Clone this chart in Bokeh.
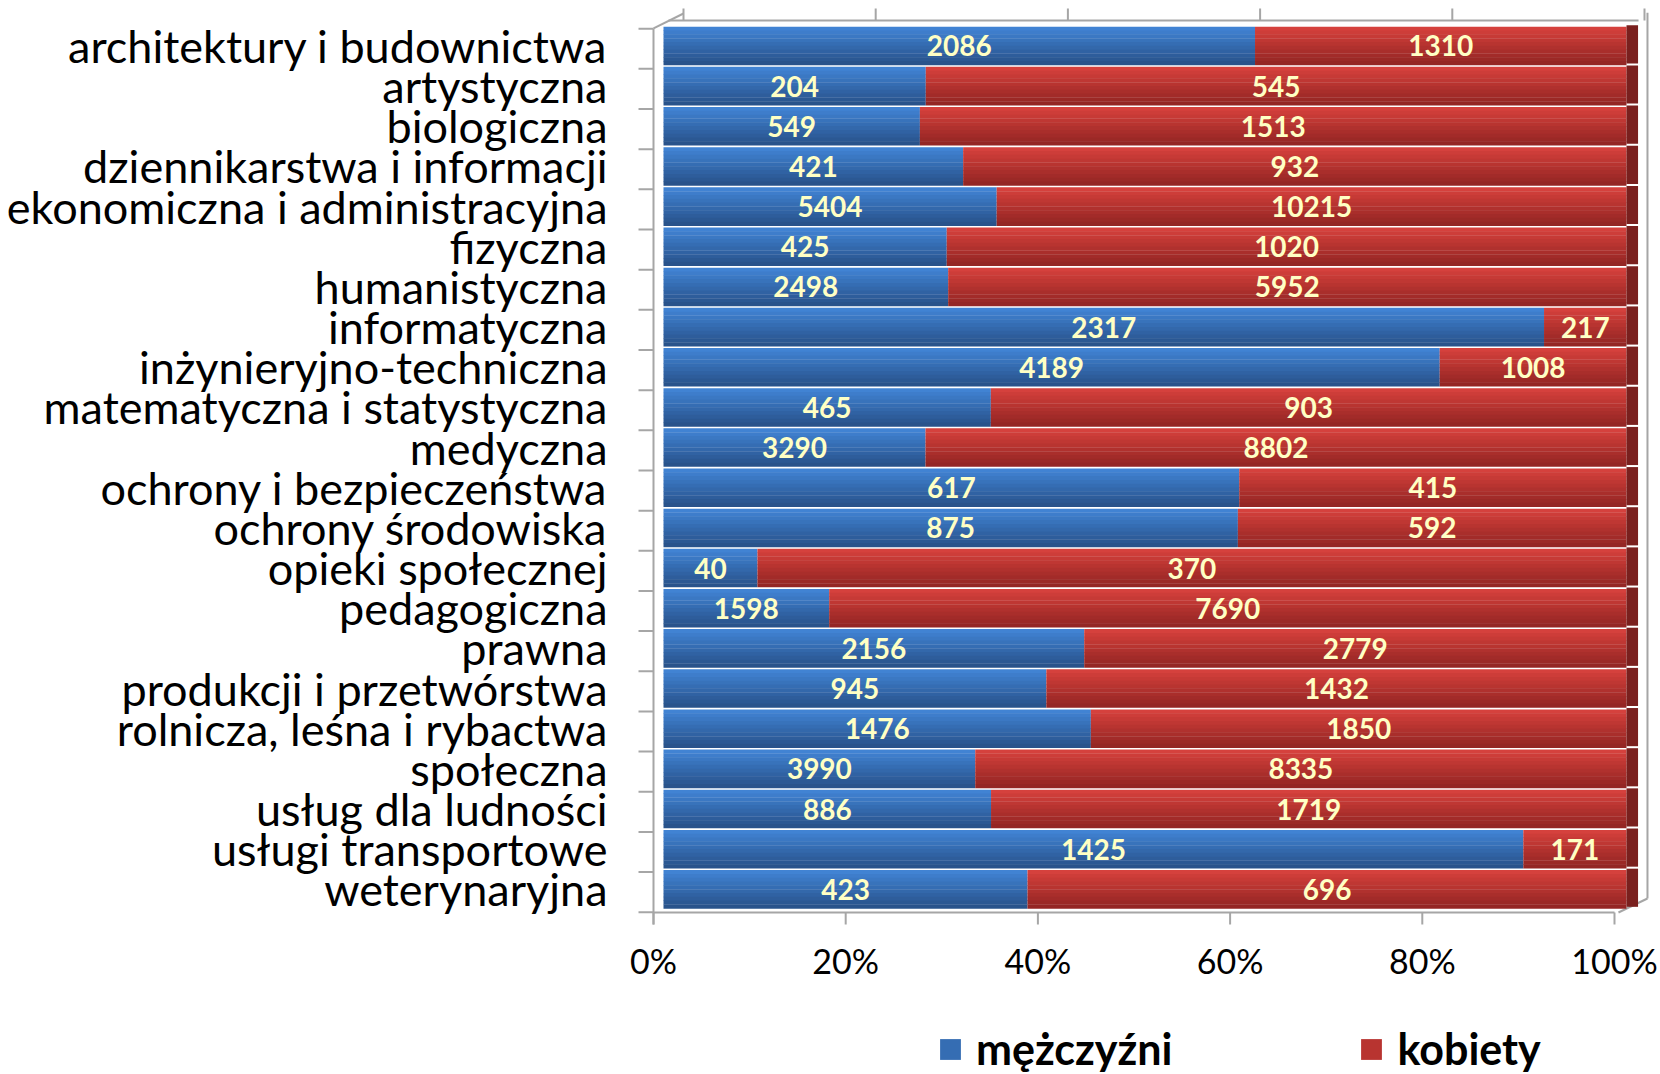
from bokeh.plotting import figure
from bokeh.models import (ColumnDataSource, Range1d, Legend, LegendItem,
                          FixedTicker)
from bokeh.transform import dodge
from bokeh.core.properties import value
from bokeh.embed import file_html
from bokeh.resources import INLINE

categories = ["architektury i budownictwa", "artystyczna", "biologiczna",
              "dziennikarstwa i informacji", "ekonomiczna i administracyjna",
              "fizyczna", "humanistyczna", "informatyczna",
              "inżynieryjno-techniczna", "matematyczna i statystyczna",
              "medyczna", "ochrony i bezpieczeństwa", "ochrony środowiska",
              "opieki społecznej", "pedagogiczna", "prawna",
              "produkcji i przetwórstwa", "rolnicza, leśna i rybactwa",
              "społeczna", "usług dla ludności", "usługi transportowe",
              "weterynaryjna"]
men = [2086, 204, 549, 421, 5404, 425, 2498, 2317, 4189, 465, 3290, 617,
       875, 40, 1598, 2156, 945, 1476, 3990, 886, 1425, 423]
women = [1310, 545, 1513, 932, 10215, 1020, 5952, 217, 1008, 903, 8802, 415,
         592, 370, 7690, 2779, 1432, 1850, 8335, 1719, 171, 696]
series_names = ["mężczyźni", "kobiety"]
x_ticks = [0, 0.2, 0.4, 0.6, 0.8, 1.0]
x_tick_labels = ["0%", "20%", "40%", "60%", "80%", "100%"]

n = len(categories)
ypos = [n - 1 - i for i in range(n)]          # first category on top
fm = [m / (m + w) for m, w in zip(men, women)]
fk = [w / (m + w) for m, w in zip(men, women)]
src = ColumnDataSource(dict(
    cat=categories, y=ypos, men=men, women=women, fm=fm, fk=fk,
    one=[1.0] * n,
    mmid=[f / 2 for f in fm],
    kmid=[a + b / 2 for a, b in zip(fm, fk)],
    mlab=[str(v) for v in men], klab=[str(v) for v in women],
))

FONT = "Lato"
GRAY = "#A6A6A6"
W, H = 1660, 1074
p = figure(width=W, height=H, output_backend="svg", toolbar_location=None,
           x_range=Range1d(-0.04465, 1.03531),
           y_range=Range1d(-4.61, 22.008),
           min_border_top=5, min_border_right=0, min_border_bottom=0,
           min_border_left=620)
p.xaxis.visible = False
p.grid.visible = False
p.outline_line_color = None
p.background_fill_color = "white"

# extra ranges for the 3D front floor axis and the back wall
p.extra_x_ranges["ax"] = Range1d(-0.03434, 1.04787)
p.extra_x_ranges["back"] = Range1d(-0.06556, 1.01665)

FLOOR = -0.576
# back wall: top line, corner, right edge
p.segment(x0=[-0.0156], y0=[21.635], x1=[0.9938], y1=[21.635],
          line_color=GRAY, line_width=2, x_range_name="back")
p.segment(x0=[-0.0312], y0=[21.436], x1=[0.0], y1=[21.809],
          line_color=GRAY, line_width=2, x_range_name="back")
p.segment(x0=x_ticks, y0=[21.635] * 6, x1=x_ticks, y1=[21.934] * 6,
          line_color=GRAY, line_width=2, x_range_name="back")
p.segment(x0=[1.0031], y0=[21.83], x1=[1.0031], y1=[-0.227],
          line_color=GRAY, line_width=2, x_range_name="back")
p.segment(x0=[1.0031], y0=[-0.227], x1=[0.9729], y1=[FLOOR],
          line_color=GRAY, line_width=2, x_range_name="back")
# front vertical axis line with category boundary ticks
p.segment(x0=[0], y0=[-0.875], x1=[0], y1=[21.436],
          line_color=GRAY, line_width=2, x_range_name="ax")
bounds = [v - 0.5 for v in range(n + 1)]
p.segment(x0=[-0.0156] * len(bounds), y0=[b - 0.07 for b in bounds],
          x1=[0] * len(bounds), y1=[b - 0.07 for b in bounds],
          line_color=GRAY, line_width=2, x_range_name="ax")
# floor axis with ticks and labels
p.segment(x0=[x_ticks[0]], y0=[FLOOR], x1=[x_ticks[-1]], y1=[FLOOR],
          line_color=GRAY, line_width=2, x_range_name="ax")
p.segment(x0=x_ticks, y0=[FLOOR] * 6, x1=x_ticks, y1=[-0.875] * 6,
          line_color=GRAY, line_width=2, x_range_name="ax")
p.text(x=x_ticks, y=[-1.77] * 6, text=x_tick_labels, x_range_name="ax",
       text_align="center", text_baseline="middle", text_color="#000000",
       text_font=value(FONT), text_font_size="34px")

# --- bars (vertical gradient bands, light on top, dark at bottom)
blue_bands = ["#4183D3", "#3E7DCB", "#3B78C3", "#3873BB", "#356DB3",
              "#3368AB", "#3062A3", "#2E5D9B", "#2B5893", "#29538B"]
red_bands = ["#D5413D", "#CD3D39", "#C63A36", "#BF3733", "#B83430",
             "#B0312E", "#A92E2B", "#A22B29", "#9B2926", "#942624"]
offs = [0.4275 - 0.095 * i for i in range(10)]
blue_r = None
red_r = None
for i, off in enumerate(offs):
    r1 = p.hbar(y=dodge("y", off), left=0, right="fm",
                height=0.105, fill_color=blue_bands[i], line_color=None,
                source=src)
    r2 = p.hbar(y=dodge("y", off), left="fm", right="one",
                height=0.105, fill_color=red_bands[i], line_color=None,
                source=src)
    if i == 4:
        blue_r, red_r = r1, r2
# right side face (3D)
p.hbar(y=dodge("y", 0.04), left="one", right=1.012,
       height=0.95, fill_color="#7A201E", line_color=None, source=src)

# data labels
for xcol, tcol in (("mmid", "mlab"), ("kmid", "klab")):
    p.text(x=xcol, y="y", text=tcol, source=src, text_align="center",
           text_baseline="middle", text_color="#FFFFC4",
           text_font=value(FONT), text_font_style="bold",
           text_font_size="28px")

# --- y axis with category names
yax = p.yaxis[0]
yax.ticker = FixedTicker(ticks=ypos)
yax.major_label_overrides = {y: c for y, c in zip(ypos, categories)}
yax.major_label_text_font = FONT
yax.major_label_text_font_size = "45px"
yax.major_label_text_color = "#000000"
yax.major_tick_line_color = None
yax.minor_tick_line_color = None
yax.major_tick_out = 0
yax.major_tick_in = 0
yax.major_label_standoff = 13
yax.axis_line_color = None

legend = Legend(items=[LegendItem(label=series_names[0], renderers=[blue_r]),
                       LegendItem(label=series_names[1], renderers=[red_r])],
                location=(317, 0), orientation="horizontal")
legend.label_text_font = FONT
legend.label_text_font_style = "bold"
legend.label_text_font_size = "43px"
legend.label_text_color = "#000000"
legend.glyph_width = 26
legend.glyph_height = 26
legend.label_standoff = 13
legend.spacing = 186
legend.padding = 0
legend.margin = 0
legend.border_line_color = None
legend.background_fill_alpha = 0
p.add_layout(legend, "center")

open("out.html", "w").write(file_html(p, INLINE))
